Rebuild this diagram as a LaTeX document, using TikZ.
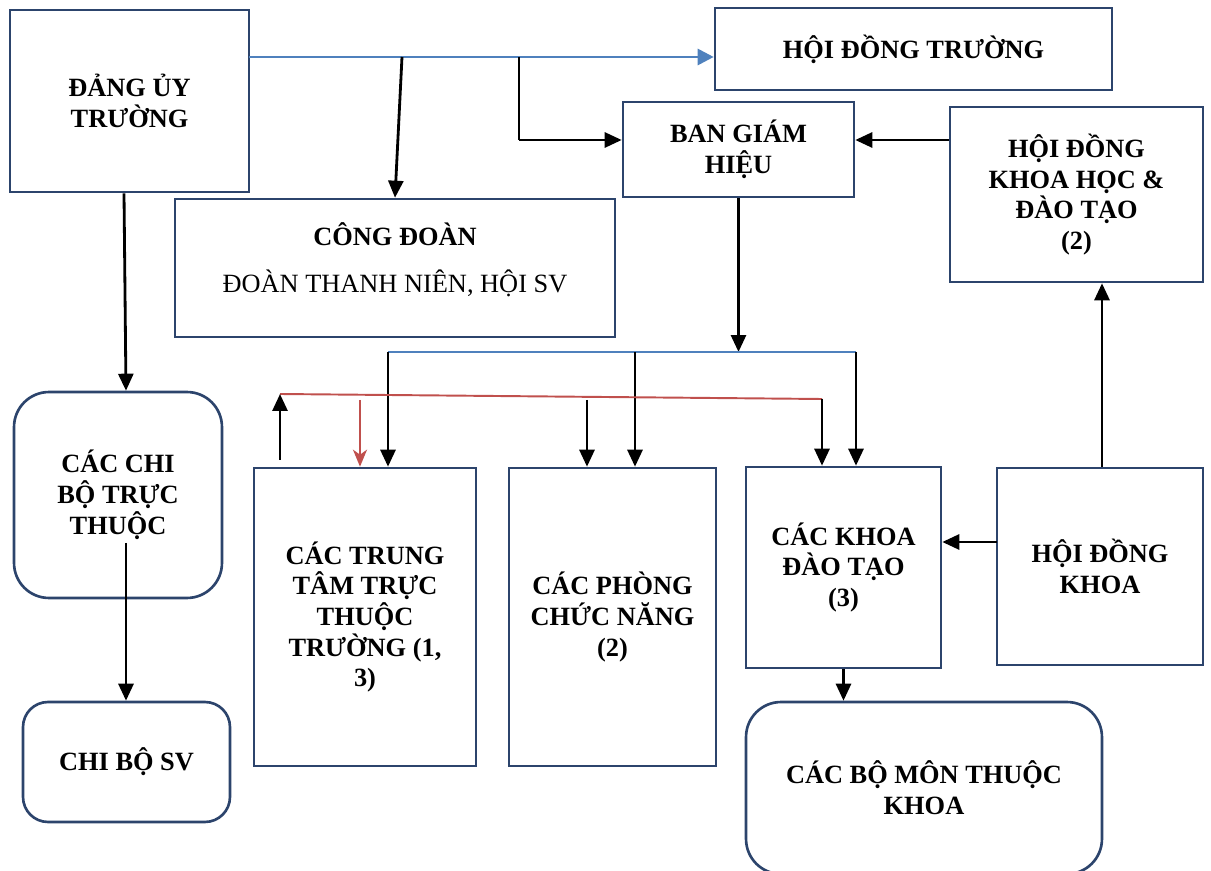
\documentclass[tikz,border=0pt]{standalone}
\usepackage{fontspec}
\setmainfont{Liberation Serif}
\usetikzlibrary{arrows.meta,calc}
\definecolor{boxline}{RGB}{44,68,108}
\definecolor{busblue}{RGB}{79,129,189}
\definecolor{linkred}{RGB}{192,80,77}
\begin{document}
\begin{tikzpicture}[x=0.02cm,y=-0.02cm,
  box/.style={draw=boxline,line width=1.5pt,fill=white,align=center,
    font=\fontsize{15}{17.5}\selectfont\bfseries,inner sep=0pt},
  rbox/.style={box,rounded corners=0.7cm},
  lbl/.style={align=center,inner sep=0pt,font=\fontsize{15}{17.5}\selectfont},
  conn/.style={line width=1.6pt,black},
  arr/.style={conn,-{Triangle[length=0.34cm,width=0.3cm]}},
  bluethin/.style={line width=1pt,busblue},
  bluearr/.style={line width=1.6pt,busblue,-{Triangle[length=0.32cm,width=0.32cm]}},
  redln/.style={line width=1.1pt,linkred},
  redarr/.style={line width=1.4pt,linkred,-{Stealth[length=0.34cm,width=0.28cm,inset=0.1cm]}}]
\useasboundingbox (0,0) rectangle (1211,871);
% boxes
\node[box,minimum width=4.78cm,minimum height=3.64cm] (dang) at (129.5,101) {ĐẢNG ỦY\\TRƯỜNG};
\node[box,minimum width=7.94cm,minimum height=1.64cm] (hdt) at (913.5,49) {HỘI ĐỒNG TRƯỜNG};
\node[box,minimum width=4.62cm,minimum height=1.9cm] (bgh) at (738.5,149.5) {BAN GIÁM\\HIỆU};
\node[box,minimum width=5.06cm,minimum height=3.5cm] (hdkh) at (1076.5,194.5) {HỘI ĐỒNG\\KHOA HỌC \&\\ĐÀO TẠO\\(2)};
\node[box,minimum width=8.8cm,minimum height=2.76cm] (cd) at (395,268) {};
\node[lbl] (cdt) at (395,259.5) {\textbf{CÔNG ĐOÀN}\\[9.5pt]ĐOÀN THANH NIÊN, HỘI SV};
\node[rbox,minimum width=4.16cm,minimum height=4.12cm] (chibo) at (118,495) {CÁC CHI\\BỘ TRỰC\\THUỘC};
\node[box,rounded corners=0.5cm,minimum width=4.14cm,minimum height=2.4cm] (sv) at (126.5,762) {CHI BỘ SV};
\node[box,minimum width=4.44cm,minimum height=5.96cm] (tt) at (365,617) {CÁC TRUNG\\TÂM TRỰC\\THUỘC\\TRƯỜNG (1,\\3)};
\node[box,minimum width=4.14cm,minimum height=5.96cm] (ph) at (612.5,617) {CÁC PHÒNG\\CHỨC NĂNG\\(2)};
\node[box,minimum width=3.9cm,minimum height=4.02cm] (khoa) at (843.5,567.5) {CÁC KHOA\\ĐÀO TẠO\\(3)};
\node[box,minimum width=4.12cm,minimum height=3.94cm] (hdk) at (1100,566.5) {HỘI ĐỒNG\\KHOA};
\node[rbox,minimum width=7.12cm,minimum height=3.44cm] (bm) at (924,788) {CÁC BỘ MÔN THUỘC\\KHOA};
% junction coordinates
\coordinate (a1) at (249,57);
\coordinate (j1) at (402,57);
\coordinate (j2) at (519,57);
\coordinate (k) at (519,140);
\coordinate (busL) at (388,352);
\coordinate (busM) at (635,352);
\coordinate (busR) at (856,352);
\coordinate (rL) at (280,394);
\coordinate (rR) at (822,399);
\coordinate (rT) at (360,400);
\coordinate (rP) at (587,400);
\coordinate (hk) at (997,542);
\coordinate (cb) at (126,543);
% top blue line
\draw[bluethin] (a1) -- (j2);
\draw[bluearr] (j2) -- (j2 -| hdt.west);
\draw[arr] (j1) -- (cd.north);
\draw[conn] (j2) -- (k);
\draw[arr] (k) -- (k -| bgh.west);
\draw[arr] (k -| hdkh.west) -- (k -| bgh.east);
% BGH down to bus
\draw[arr] (bgh.south) -- (bgh.south |- busM);
\draw[bluethin] (busL) -- (busR);
\draw[arr] (busL) -- (busL |- tt.north);
\draw[arr] (busM) -- (busM |- ph.north);
\draw[arr] (busR) -- (busR |- khoa.north);
% red link line
\draw[redln] (rL) -- (rR);
\draw[arr] (rL |- tt.north) ++(0,-7) -- (rL);
\draw[redarr] (rT) -- (rT |- tt.north);
\draw[arr] (rP) -- (rP |- ph.north);
\draw[arr] (rR) -- (rR |- khoa.north);
% right side
\draw[arr] (hk) -- (hk -| khoa.east);
\draw[arr] (hdk.north -| 1102,0) -- (hdkh.south -| 1102,0);
\draw[arr] (khoa.south) -- (khoa.south |- bm.north);
% left side
\draw[arr] (dang.south -| 124,0) -- (chibo.north -| 126,0);
\draw[arr] (cb) -- (cb |- sv.north);
\end{tikzpicture}
\end{document}
